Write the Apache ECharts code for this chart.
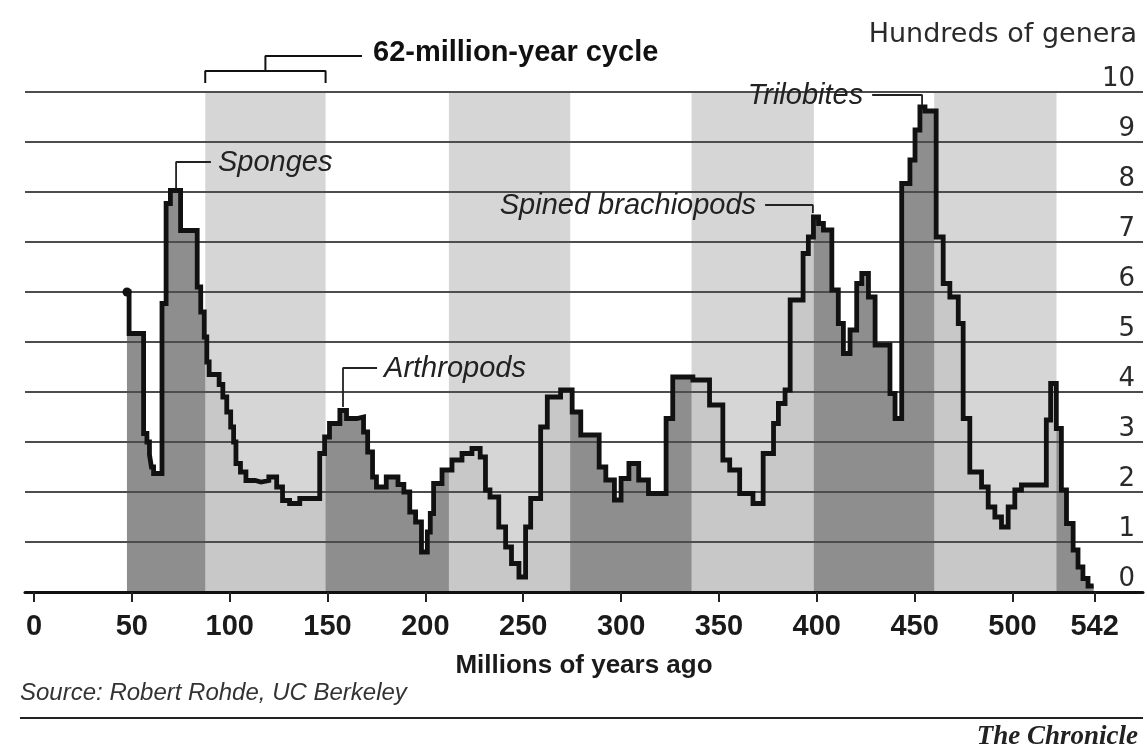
<!DOCTYPE html>
<html><head><meta charset="utf-8">
<script src="https://cdn.jsdelivr.net/npm/echarts@6/dist/echarts.min.js"></script>
<style>html,body{margin:0;padding:0;background:#fff;}#c{width:1147px;height:749px;}</style>
</head><body><div id="c"></div>
<script>
// ---- data ----
const xTicks = [0, 50, 100, 150, 200, 250, 300, 350, 400, 450, 500, 542];
const yTicks = [0, 1, 2, 3, 4, 5, 6, 7, 8, 9, 10];
// 62-million-year cycle bands (millions of years ago)
const cycleBands = [[87.5, 149], [212, 274], [336, 398.5], [460, 522.5]];
// step start (millions of years ago)
const stepAge = [47.5, 48.6, 56.0, 57.7, 59.0, 60.0, 61.1, 65.4, 67.5, 69.7, 74.9, 83.4, 85.2, 87.0, 88.3, 89.5,
  94.6, 96.5, 98.5, 100.5, 102.0, 103.2, 105.5, 108.3, 113.0, 116.0, 120.0, 124.0, 127.0, 130.6, 135.8,
  146.0, 148.5, 151.0, 156.3, 159.7, 165.0, 168.4, 170.5, 173.0, 175.0, 180.0, 186.0, 189.0, 192.0, 195.0,
  198.0, 201.0, 202.5, 204.2, 208.5, 213.6, 218.7, 223.8, 228.0, 230.7, 233.0, 237.5, 241.0, 244.0, 247.8,
  251.2, 253.8, 258.9, 262.3, 269.1, 275.0, 279.4, 288.8, 292.2, 296.6, 300.0, 304.0, 309.0, 314.0, 323.0,
  326.4, 336.7, 345.2, 352.0, 355.5, 360.6, 367.4, 372.6, 377.9, 380.4, 383.8, 386.4, 393.0, 395.7, 398.3,
  400.9, 403.4, 407.7, 411.0, 413.6, 417.0, 420.4, 423.0, 426.4, 429.8, 437.4, 440.0, 443.4, 447.6, 450.2,
  452.7, 455.3, 461.0, 464.6, 468.0, 472.3, 474.8, 478.2, 484.2, 487.6, 491.0, 494.4, 497.8, 501.2, 504.6,
  517.3, 519.5, 522.4, 525.0, 527.6, 531.0, 533.5, 536.0, 538.6, 541.5];
// hundreds of genera
const genera = [6.0, 5.17, 3.17, 3.0, 2.75, 2.5, 2.37, 5.77, 7.77, 8.03, 7.23, 6.1, 5.6, 5.1, 4.6, 4.35,
  4.15, 3.9, 3.6, 3.3, 3.0, 2.57, 2.4, 2.23, 2.2, 2.23, 2.3, 2.1, 1.83, 1.77, 1.87,
  2.77, 3.1, 3.37, 3.63, 3.47, 3.5, 3.2, 2.8, 2.3, 2.1, 2.3, 2.15, 2.0, 1.6, 1.4,
  0.8, 1.2, 1.57, 2.17, 2.44, 2.64, 2.77, 2.87, 2.7, 2.04, 1.9, 1.3, 0.9, 0.57, 0.3,
  1.3, 1.87, 3.3, 3.9, 4.04, 3.6, 3.14, 2.5, 2.24, 1.84, 2.27, 2.57, 2.24, 1.97, 3.47,
  4.3, 4.24, 3.74, 2.64, 2.44, 1.97, 1.77, 2.77, 3.37, 3.77, 4.04, 5.84, 6.77, 7.1, 7.5,
  7.37, 7.24, 6.04, 5.37, 4.77, 5.24, 6.17, 6.37, 5.9, 4.94, 3.97, 3.47, 8.17, 8.64, 9.24,
  9.7, 9.62, 7.1, 6.17, 5.9, 5.37, 3.47, 2.4, 2.1, 1.7, 1.5, 1.3, 1.7, 2.04, 2.14,
  3.44, 4.17, 3.27, 2.04, 1.37, 0.84, 0.5, 0.27, 0.12, 0.12];
// annotations
const annoLabels = ['Sponges', 'Arthropods', 'Spined brachiopods', 'Trilobites'];
const annoPeakAge = [72.6, 157.9, 398.0, 453.8];
const annoPeakTop = [8.08, 3.7, 7.58, 9.74];
const annoElbow = [8.6, 4.48, 7.74, 9.94];
const annoEndAge = [90.4, 175.3, 373.6, 428.3];
const annoSide = ['right', 'right', 'left', 'left'];

// ---- build ----
const pts = stepAge.map((a, i) => [a, genera[i]]);
const curveData = pts.map((p, i) => i === 0 ? { value: p, symbol: 'circle', symbolSize: 9 } : { value: p });

const chart = echarts.init(document.getElementById('c'), null, { renderer: 'canvas' });
const BLACK = '#111';
const series = [
  { type: 'line', step: 'end', data: pts, symbol: 'none', lineStyle: { width: 0, opacity: 0 },
    areaStyle: { color: '#8e8e8e', opacity: 1 }, z: 1, silent: true, animation: false },
  { type: 'custom', data: cycleBands, encode: { x: [0, 1] }, z: 2, silent: true, animation: false,
    renderItem: function (params, api) {
      const a = api.coord([api.value(0), 10]);
      const b = api.coord([api.value(1), 0]);
      return { type: 'rect', shape: { x: a[0], y: a[1], width: b[0] - a[0], height: b[1] - a[1] },
        style: { fill: 'rgba(208,208,208,0.875)' } };
    } },
  { type: 'line', step: 'end', data: curveData, symbol: 'none', showSymbol: true,
    itemStyle: { color: BLACK }, lineStyle: { color: BLACK, width: 4.8, join: 'miter' },
    z: 6, silent: true, animation: false },
  // 62-million-year bracket
  { type: 'line', data: [[cycleBands[0][0], 10.18], [cycleBands[0][0], 10.42], [cycleBands[0][1], 10.42], [cycleBands[0][1], 10.18]],
    symbol: 'none', clip: false, lineStyle: { color: BLACK, width: 2 }, z: 6, silent: true, animation: false },
  { type: 'line', data: [[(cycleBands[0][0] + cycleBands[0][1]) / 2, 10.42], [(cycleBands[0][0] + cycleBands[0][1]) / 2, 10.72], [167.6, 10.72]],
    symbol: 'none', clip: false, lineStyle: { color: BLACK, width: 2 }, z: 6, silent: true, animation: false }
];
annoLabels.forEach((t, i) => {
  series.push({ type: 'line', data: [[annoPeakAge[i], annoPeakTop[i]], [annoPeakAge[i], annoElbow[i]], [annoEndAge[i], annoElbow[i]]],
    symbol: 'none', clip: false, lineStyle: { color: '#222', width: 1.8 }, z: 6, silent: true, animation: false });
});

const option = {
  backgroundColor: '#fff',
  animation: false,
  grid: { left: 25, right: 4, top: 92, bottom: 157, containLabel: false, outerBoundsMode: 'none' },
  xAxis: {
    type: 'value', min: -4.6, max: 566.7, z: 4,
    axisLine: { show: true, onZero: false, lineStyle: { color: BLACK, width: 3 } },
    axisTick: { show: true, customValues: xTicks, length: 10, lineStyle: { color: '#222', width: 2 } },
    axisLabel: { customValues: xTicks, margin: 20, fontFamily: 'Liberation Sans', fontWeight: 'bold', fontSize: 29, color: '#1a1a1a' },
    splitLine: { show: false },
    name: 'Millions of years ago', nameLocation: 'middle', nameGap: 61,
    nameTextStyle: { fontFamily: 'Liberation Sans', fontWeight: 'bold', fontSize: 26, color: '#1a1a1a' }
  },
  yAxis: {
    type: 'value', min: yTicks[0], max: yTicks[yTicks.length - 1], interval: 1, position: 'right', z: 3,
    axisLine: { show: false }, axisTick: { show: false },
    splitLine: { show: true, lineStyle: { color: '#4d4d4d', width: 2 } },
    axisLabel: { inside: true, margin: 8, verticalAlign: 'bottom', padding: [0, 0, 0, 0],
      fontFamily: 'DejaVu Sans', fontSize: 26, color: '#2a2a2a' }
  },
  series: series,
  graphic: [
    { type: 'text', left: 373, top: 38, z: 20, style: { text: '62-million-year cycle', font: 'bold 29px "Liberation Sans"', fill: '#111' } },
    { type: 'text', right: 10, top: 21, z: 20, style: { text: 'Hundreds of genera', font: '27px "DejaVu Sans"', fill: '#2a2a2a' } },
    { type: 'text', left: 20, top: 681, z: 20, style: { text: 'Source: Robert Rohde, UC Berkeley', font: 'italic 24px "Liberation Sans"', fill: '#333' } },
    { type: 'line', z: 20, shape: { x1: 20, y1: 718, x2: 1143, y2: 718 }, style: { stroke: '#222', lineWidth: 2 } },
    { type: 'text', right: 9, top: 724, z: 20, style: { text: 'The Chronicle', font: 'italic bold 27px "Liberation Serif"', fill: '#222' } }
  ]
};
chart.setOption(option);

// annotation texts positioned through the chart's own scales
const annoGraphics = annoLabels.map((t, i) => {
  const p = chart.convertToPixel({ gridIndex: 0 }, [annoEndAge[i], annoElbow[i]]);
  const right = annoSide[i] === 'right';
  return { type: 'text', z: 20, x: right ? p[0] + 7 : p[0] - 9, y: p[1] + 1,
    style: { text: t, font: 'italic 29px "Liberation Sans"', fill: '#222',
      textAlign: right ? 'left' : 'right', textVerticalAlign: 'middle' } };
});
chart.setOption({ graphic: option.graphic.concat(annoGraphics) });
</script></body></html>
